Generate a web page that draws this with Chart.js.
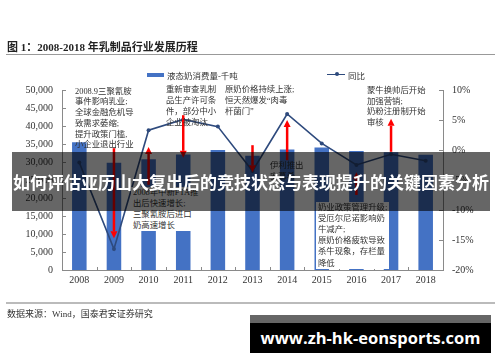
<!DOCTYPE html>
<html>
<head>
<meta charset="utf-8">
<script src="https://cdn.jsdelivr.net/npm/chart.js@4.4.1/dist/chart.umd.min.js"></script>
<style>
  body { margin: 0; background: #fff; }
  #wrap { position: relative; width: 500px; height: 362px; overflow: hidden; font-family: "Liberation Serif", "Noto Sans CJK SC", serif; color: #333; }
  #chart { position: absolute; left: 0; top: 0; }
  .abs { position: absolute; white-space: nowrap; }
  .title { left: 7px; top: 38px; font-size: 11px; font-weight: bold; color: #222; }
  .rule { position: absolute; left: 6px; width: 489px; }
  .note { font-size: 8.4px; line-height: 11px; color: #333; }
  .leg { font-size: 8.5px; color: #333; }
  .banner { left: 12px; top: 152px; width: 478px; height: 59px; background: rgba(0,0,0,0.6); color: #fff;
            font-family: "Noto Sans CJK SC", sans-serif; font-weight: bold; font-size: 17px; line-height: 59px; text-align: center; }
  .mark { left: 250px; top: 315px; width: 241px; height: 38px; background: #000; color: #fff;
          font-family: "Open Sans", "DejaVu Sans", sans-serif; font-weight: bold; font-size: 16.5px; line-height: 45px; text-align: center; }
  .mark::before { content: ""; position: absolute; left: 0; top: 0; width: 100%; height: 8px; background: #666; }
</style>
</head>
<body>
<div id="wrap">
  <canvas id="chart" width="500" height="362"></canvas>

  <div class="abs title">图 1：2008-2018 年乳制品行业发展历程</div>
  <div class="rule" style="top:54px;height:1px;background:#999;"></div>

  <div class="abs" style="left:147px;top:72.5px;width:17px;height:4px;background:#4472C4;"></div>
  <div class="abs leg" style="left:167px;top:69px;">液态奶消费量-千吨</div>
  <div class="abs" style="left:327px;top:73.5px;width:18px;height:1.5px;background:#2E4A7D;"></div>
  <div class="abs" style="left:334.5px;top:72.3px;width:4px;height:4px;border-radius:2px;background:#2E4A7D;"></div>
  <div class="abs leg" style="left:348px;top:69px;">同比</div>

  <div class="abs note" style="left:75px;top:86.5px;line-height:10.8px;">2008.9三聚氰胺<br>事件影响乳业;<br>全球金融危机导<br>致需求萎缩;<br>提升政策门槛,<br>小企业退出行业</div>
  <div class="abs note" style="left:166px;top:83.5px;line-height:11.3px;">重新审查乳制<br>品生产许可条<br>件，部分中小<br>企业被淘汰</div>
  <div class="abs note" style="left:225px;top:83.5px;line-height:11.3px;">原奶价格持续上涨;<br>恒天然爆发“肉毒<br>杆菌门”</div>
  <div class="abs note" style="left:367px;top:86.3px;line-height:10.5px;">蒙牛换帅后开始<br>加强营销;<br>奶粉注册制开始<br>审核</div>
  <div class="abs note" style="left:131px;top:186.5px;background:#fff;padding:0 2px;">2008年中新FTA推<br>出后快速增长;<br>三聚氰胺后进口<br>奶高速增长</div>
  <div class="abs note" style="left:270px;top:159.5px;">伊利推出<br>安慕希</div>
  <div class="abs note" style="left:316px;top:201.5px;line-height:11.2px;background:#fff;padding:0 2px;">奶业政策管理升级;<br>受厄尔尼诺影响奶<br>牛减产;<br>原奶价格疲软导致<br>杀牛现象，存栏量<br>降低</div>

  <div class="rule" style="top:302px;height:2px;background:#bbb;"></div>
  <div class="abs" style="left:7px;top:307px;font-size:9px;color:#333;">数据来源：Wind，国泰君安证券研究</div>

  <div class="abs banner">如何评估亚历山大复出后的竞技状态与表现提升的关键因素分析</div>
  <div class="abs mark">www.zh-hk-eonsports.com</div>
</div>

<script>
// 2008-2018 液态奶消费量(千吨) 与 同比(%)
const years = ['2008', '2009', '2010', '2011', '2012', '2013', '2014', '2015', '2016', '2017', '2018'];
const consumption = [35500, 29800, 30750, 32100, 33300, 31750, 33500, 34000, 33050, 32700, 32000];
const yoy = [-2.1, -16.5, 3.3, 5.1, 3.9, -3.5, 6.0, 1.1, -2.5, -0.7, -1.8];

const leftTicks = [0, 5000, 10000, 15000, 20000, 25000, 30000, 35000, 40000, 45000, 50000];
const rightTicks = [-20, -15, -10, -5, 0, 5, 10];

// 红色箭头：所在年份序号，起点和终点（右轴 %）
const arrowAt = [1, 2, 3, 5, 6, 8, 9];
const arrowFrom = [0.3, -5.8, 5.8, 0.8, -1.7, -7.5, -0.3];
const arrowTo = [-14.7, 0.5, -1.3, -3.7, 5.0, -3.7, 5.2];

const axisColor = '#8a8a8a';
const tickFont = { family: 'Liberation Serif', size: 10 };

const decor = {
    id: 'decor',
    afterDatasetsDraw(chart) {
        const { ctx, scales } = chart;
        const x = scales.x, yr = scales.y1;

        ctx.save();
        ctx.strokeStyle = '#FF0000';
        ctx.fillStyle = '#FF0000';
        ctx.lineWidth = 2.5;
        for (let i = 0; i < arrowAt.length; i++) {
            const px = x.getPixelForValue(arrowAt[i]);
            const y0 = yr.getPixelForValue(arrowFrom[i]);
            const y1 = yr.getPixelForValue(arrowTo[i]);
            const dir = y1 > y0 ? 1 : -1;
            const head = 7;
            ctx.beginPath();
            ctx.moveTo(px, y0);
            ctx.lineTo(px, y1 - dir * head);
            ctx.stroke();
            ctx.beginPath();
            ctx.moveTo(px, y1);
            ctx.lineTo(px - 3.5, y1 - dir * head);
            ctx.lineTo(px + 3.5, y1 - dir * head);
            ctx.closePath();
            ctx.fill();
        }
        ctx.restore();
    },
    afterDraw(chart) {
        const { ctx, chartArea, scales } = chart;
        ctx.save();
        ctx.strokeStyle = axisColor;
        ctx.lineWidth = 1;
        ctx.beginPath();
        scales.y.ticks.forEach(t => {
            const py = Math.round(scales.y.getPixelForValue(t.value)) + 0.5;
            ctx.moveTo(chartArea.left, py);
            ctx.lineTo(chartArea.left + 4, py);
        });
        scales.y1.ticks.forEach(t => {
            const py = Math.round(scales.y1.getPixelForValue(t.value)) + 0.5;
            ctx.moveTo(chartArea.right - 4, py);
            ctx.lineTo(chartArea.right, py);
        });
        const n = years.length;
        const w = (chartArea.right - chartArea.left) / n;
        for (let i = 1; i < n; i++) {
            const px = Math.round(chartArea.left + i * w) + 0.5;
            ctx.moveTo(px, chartArea.bottom);
            ctx.lineTo(px, chartArea.bottom - 3);
        }
        ctx.stroke();
        ctx.restore();
    }
};

new Chart(document.getElementById('chart'), {
    type: 'bar',
    data: {
        labels: years,
        datasets: [{
            type: 'line',
            label: '同比',
            data: yoy,
            yAxisID: 'y1',
            borderColor: '#2E4A7D',
            backgroundColor: '#2E4A7D',
            borderWidth: 1.6,
            pointRadius: 2,
            pointBackgroundColor: '#2E4A7D',
            pointBorderWidth: 0,
            tension: 0,
            order: 0
        }, {
            type: 'bar',
            label: '液态奶消费量-千吨',
            data: consumption,
            yAxisID: 'y',
            backgroundColor: '#4472C4',
            barPercentage: 0.42,
            categoryPercentage: 1,
            order: 1
        }]
    },
    options: {
        responsive: false,
        animation: false,
        devicePixelRatio: 1,
        layout: { padding: { top: 90, left: 0, right: 0, bottom: 0 } },
        plugins: {
            legend: { display: false },
            tooltip: { enabled: false }
        },
        scales: {
            x: {
                grid: { display: false, drawTicks: false },
                border: { color: axisColor },
                ticks: { font: tickFont, color: '#333', padding: 4, maxRotation: 0 },
                afterFit: s => { s.height = 92; }
            },
            y: {
                position: 'left',
                min: 0,
                max: 50000,
                afterBuildTicks: s => { s.ticks = leftTicks.map(v => ({ value: v })); },
                grid: { display: false, drawTicks: false },
                border: { color: axisColor },
                ticks: {
                    font: tickFont, color: '#333', padding: 9,
                    callback: v => v.toLocaleString('en-US')
                },
                afterFit: s => { s.width = 62; }
            },
            y1: {
                position: 'right',
                min: -20,
                max: 10,
                afterBuildTicks: s => { s.ticks = rightTicks.map(v => ({ value: v })); },
                grid: { display: false, drawTicks: false },
                border: { color: axisColor },
                ticks: {
                    font: tickFont, color: '#333', padding: 9,
                    callback: v => v + '%'
                },
                afterFit: s => { s.width = 57; }
            }
        }
    },
    plugins: [decor]
});
</script>
</body>
</html>
